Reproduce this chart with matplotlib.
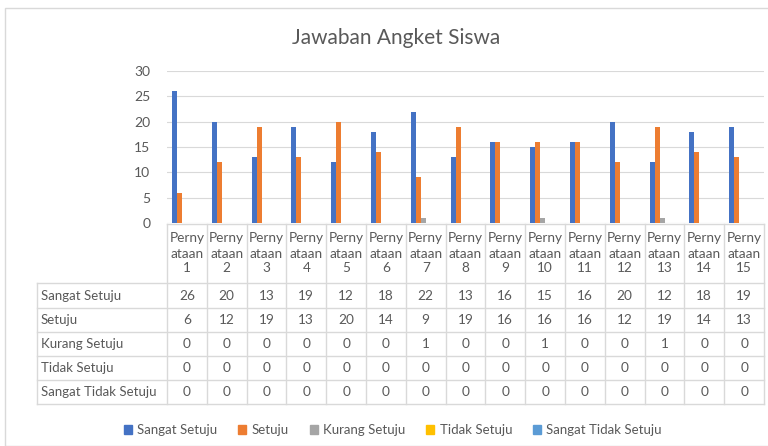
import matplotlib.pyplot as plt
from matplotlib.patches import Rectangle
from matplotlib.lines import Line2D

# data
categories = ["Pernyataan %d" % i for i in range(1, 16)]
header_labels = ["Perny\nataan\n%d" % i for i in range(1, 16)]
series_names = ["Sangat Setuju", "Setuju", "Kurang Setuju", "Tidak Setuju", "Sangat Tidak Setuju"]
sangat_setuju = [26, 20, 13, 19, 12, 18, 22, 13, 16, 15, 16, 20, 12, 18, 19]
setuju = [6, 12, 19, 13, 20, 14, 9, 19, 16, 16, 16, 12, 19, 14, 13]
kurang_setuju = [0, 0, 0, 0, 0, 0, 1, 0, 0, 1, 0, 0, 1, 0, 0]
tidak_setuju = [0] * 15
sangat_tidak_setuju = [0] * 15
series_values = [sangat_setuju, setuju, kurang_setuju, tidak_setuju, sangat_tidak_setuju]
colors = ["#4472C4", "#ED7D31", "#A5A5A5", "#FFC000", "#5B9BD5"]

W, H = 768, 446
TXT = "#595959"
GRID = "#D9D9D9"
plt.rcParams['font.family'] = ['Lato', 'DejaVu Sans']

fig = plt.figure(figsize=(W / 100, H / 100), dpi=100)
fig.patch.set_facecolor("white")

def fx(x):
    return x / W

def fy(y):
    return 1 - y / H

# chart border
fig.add_artist(Rectangle((fx(5), 0), fx(W + 10), fy(8), transform=fig.transFigure,
                         fill=False, edgecolor=GRID, lw=1))

fig.text(fx(396), fy(38), "Jawaban Angket Siswa", ha="center", va="center",
         fontsize=15, color=TXT)

# plot area
left, right, top, bottom = 167, 764, 71, 223
ax = fig.add_axes([fx(left), fy(bottom), fx(right - left), (bottom - top) / H])
n = len(categories)
w = 0.125
for k, (name, vals, c) in enumerate(zip(series_names, series_values, colors)):
    xs = [i + (k - 2) * w - 0.06 for i in range(n)]
    ax.bar(xs, vals, width=w, color=c, label=name, zorder=3)
ax.set_xlim(-0.5, n - 0.5)
ax.set_ylim(0, 30)
ax.set_yticks(range(0, 31, 5))
ax.set_xticks([])
ax.grid(axis="y", color=GRID, lw=0.8, zorder=0)
for s in ax.spines.values():
    s.set_visible(False)
ax.tick_params(axis="y", length=0, pad=12, labelsize=10, labelcolor=TXT)

# data table
col_w = (right - left) / n
row_lines = [283, 308, 332, 356, 380, 404]
tbl_left = 37

def hline(y, x0, x1):
    fig.add_artist(Line2D([fx(x0), fx(x1)], [fy(y), fy(y)], transform=fig.transFigure,
                          color=GRID, lw=1))

def vline(x, y0, y1):
    fig.add_artist(Line2D([fx(x), fx(x)], [fy(y0), fy(y1)], transform=fig.transFigure,
                          color=GRID, lw=1))

hline(bottom + 1, left, right)
for y in row_lines:
    hline(y, tbl_left, right)
vline(tbl_left, row_lines[0], row_lines[-1])
for i in range(n + 1):
    vline(left + i * col_w, bottom + 1, row_lines[-1])

for i, lab in enumerate(header_labels):
    fig.text(fx(left + (i + 0.5) * col_w), fy(253.5), lab, ha="center", va="center",
             fontsize=9.8, color=TXT, linespacing=1.3)

for r, (name, vals) in enumerate(zip(series_names, series_values)):
    yc = (row_lines[r] + row_lines[r + 1]) / 2
    fig.text(fx(tbl_left + 4), fy(yc), name, ha="left", va="center", fontsize=9.5, color=TXT)
    for i, v in enumerate(vals):
        fig.text(fx(left + (i + 0.5) * col_w), fy(yc), str(v), ha="center", va="center",
                 fontsize=9.8, color=TXT)

# legend
handles = [Rectangle((0, 0), 1, 1, color=c) for c in colors]
fig.legend(handles, series_names, loc="center", bbox_to_anchor=(fx(393), fy(430)),
           ncol=5, frameon=False, fontsize=9.5, labelcolor=TXT, handlelength=0.6,
           handleheight=0.6, handletextpad=0.4, columnspacing=1.6)

fig.savefig("out.png", dpi=100)
